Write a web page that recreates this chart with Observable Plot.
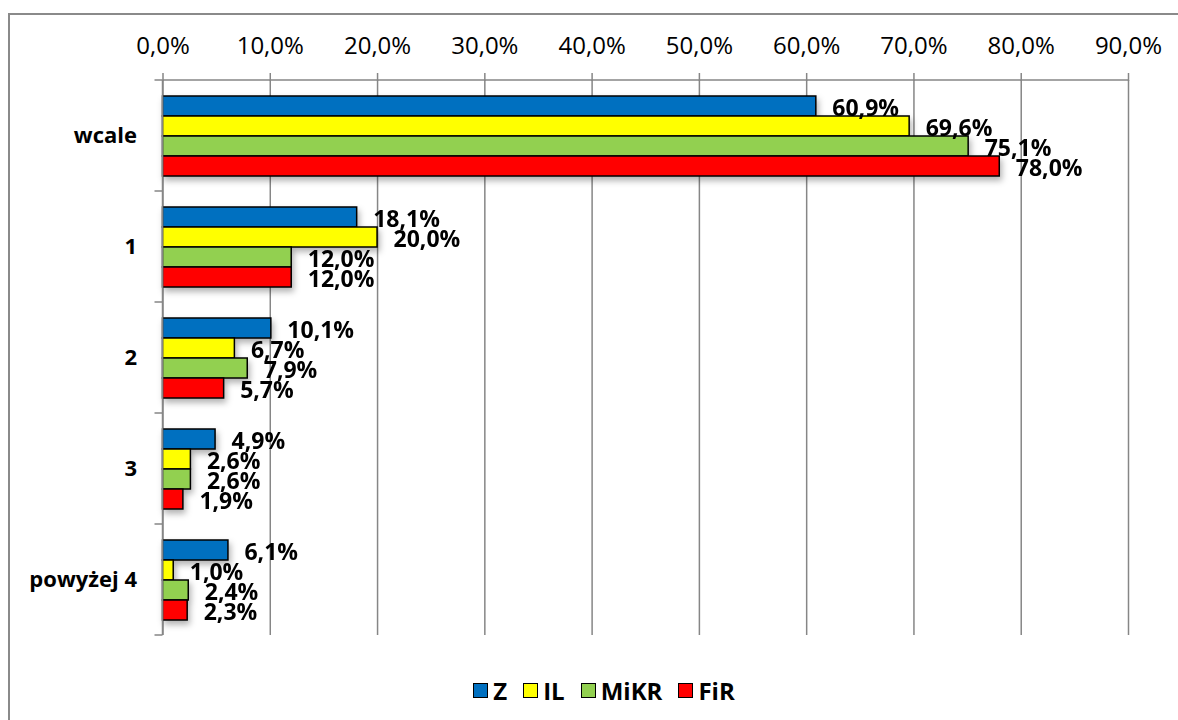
<!DOCTYPE html>
<html>
<head>
<meta charset="utf-8">
<script src="https://cdn.jsdelivr.net/npm/d3@7"></script>
<script src="https://cdn.jsdelivr.net/npm/@observablehq/plot@0.6"></script>
<style>
  html, body { margin: 0; padding: 0; background: #fff; overflow: hidden; }
  #frame { position: absolute; left: 8px; top: 13px; width: 1192px; height: 730px; border: 2px solid #8a8a8a; box-sizing: border-box; }
  #chart { position: absolute; left: 0; top: 0; }
  #legend { position: absolute; left: 8px; top: 674px; width: 1192px; display: flex; justify-content: center; align-items: center;
            font-family: 'Open Sans', sans-serif; font-weight: bold; font-size: 24px; color: #000; }
  .item { display: flex; align-items: center; margin: 0 8px; }
  .sw { width: 13px; height: 13px; border: 1.5px solid #000; margin-right: 5px; }
</style>
</head>
<body>
<div id="frame"></div>
<div id="chart"></div>
<div id="legend"></div>
<script>
const categories = ["wcale", "1", "2", "3", "powyżej 4"];
const series = ["Z", "IL", "MiKR", "FiR"];
const colors = ["#0070C0", "#FFFF00", "#92D050", "#FF0000"];
const valuesZ    = [60.9, 18.1, 10.1, 4.9, 6.1];
const valuesIL   = [69.6, 20.0, 6.7, 2.6, 1.0];
const valuesMiKR = [75.1, 12.0, 7.9, 2.6, 2.4];
const valuesFiR  = [78.0, 12.0, 5.7, 1.9, 2.3];
const xTicks = [0, 10, 20, 30, 40, 50, 60, 70, 80, 90];

const seriesValues = {Z: valuesZ, IL: valuesIL, MiKR: valuesMiKR, FiR: valuesFiR};
const data = [];
categories.forEach((c, i) => series.forEach(s => data.push({cat: c, series: s, value: seriesValues[s][i]})));

const fmt = d => d.toFixed(1).replace(".", ",") + "%";
const gray = "#868686";

const chart = Plot.plot({
  width: 1178,
  height: 660,
  marginTop: 80,
  marginBottom: 25,
  marginLeft: 162.5,
  marginRight: 50,
  style: {fontFamily: "'Open Sans', sans-serif", fontSize: "22px", color: "#000", background: "transparent", overflow: "visible"},
  x: {domain: [0, 90]},
  y: {domain: series, paddingInner: 0, paddingOuter: 0.74, axis: null},
  fy: {domain: categories, padding: 0},
  color: {domain: series, range: colors},
  marks: [
    Plot.gridX(xTicks, {stroke: gray, strokeOpacity: 1, strokeWidth: 1.5}),
    Plot.axisX(xTicks, {anchor: "top", tickSize: 8, tickPadding: 19, tickFormat: fmt, stroke: gray, strokeWidth: 1.5, fontSize: 24, fill: "#000", label: null}),
    Plot.axisFy({anchor: "left", tickSize: 0, tickPadding: 26, fontWeight: "bold", fontSize: 22, fill: "#000", label: null}),
    Plot.barX(data, {x: "value", y: "series", fy: "cat", fill: "series", stroke: "#000", strokeWidth: 1.5}),
    Plot.text(data, {x: "value", y: "series", fy: "cat", text: d => fmt(d.value), textAnchor: "start", dx: 16, dy: 2, fontWeight: "bold", fontSize: 23, fill: "#000"})
  ]
});

document.getElementById("chart").appendChild(chart);

// axis lines (left axis with boundary ticks, top axis line) from the library's scales
const xs = chart.scale("x"), fys = chart.scale("fy");
const svg = d3.select(chart);
const x0 = xs.apply(0), x1 = xs.apply(90);
const tops = categories.map(c => fys.apply(c));
const bottom = tops[tops.length - 1] + fys.bandwidth;
const bounds = tops.concat([bottom]);
const g = svg.append("g").attr("stroke", gray).attr("stroke-width", 1.5);
g.append("line").attr("x1", x0).attr("x2", x0).attr("y1", tops[0]).attr("y2", bottom);
g.append("line").attr("x1", x0).attr("x2", x1).attr("y1", tops[0]).attr("y2", tops[0]);
bounds.forEach(b => g.append("line").attr("x1", x0 - 8).attr("x2", x0).attr("y1", b).attr("y2", b));

svg.selectAll('g[aria-label="bar"]').style("filter", "drop-shadow(2px 4px 3px rgba(0,0,0,0.3))");

// legend
const legend = d3.select("#legend");
series.forEach((s, i) => {
  const it = legend.append("div").attr("class", "item");
  it.append("div").attr("class", "sw").style("background", colors[i]);
  it.append("span").text(s);
});
</script>
</body>
</html>
